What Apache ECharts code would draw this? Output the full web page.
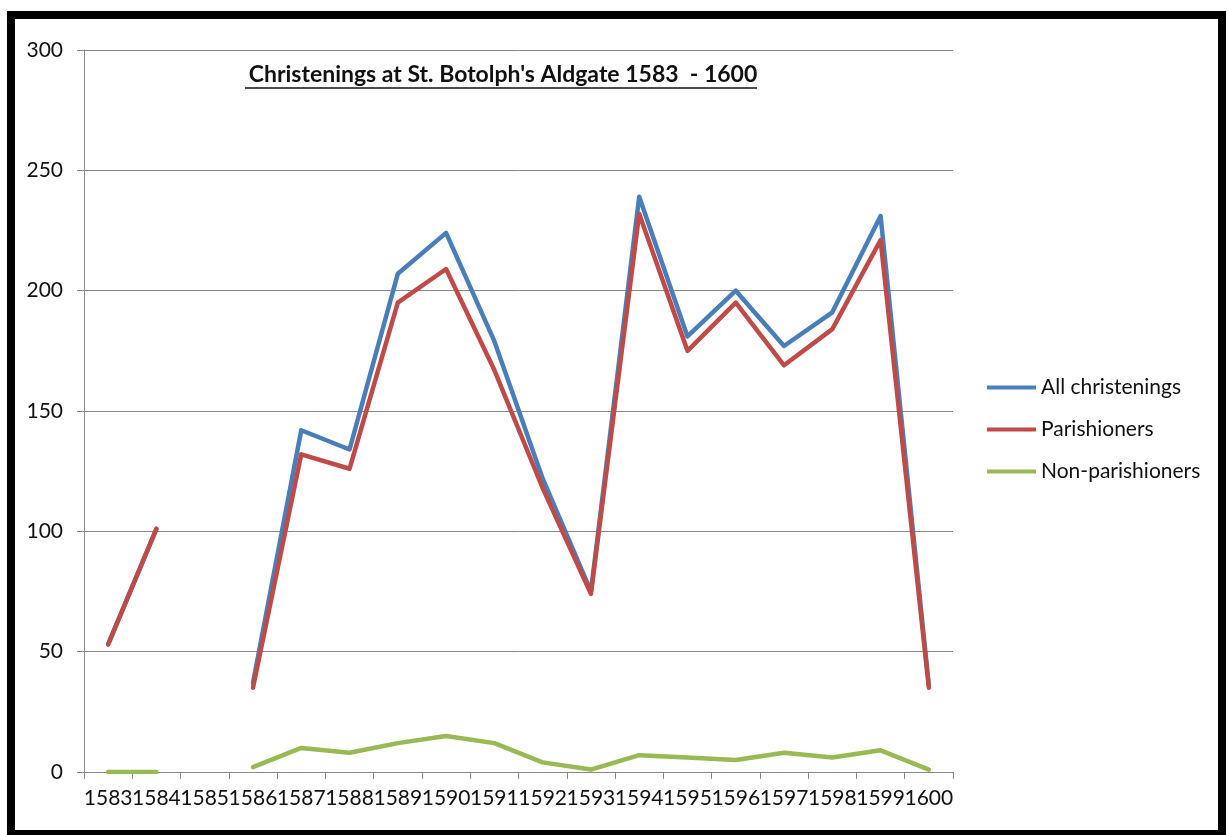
<!DOCTYPE html>
<html>
<head>
<meta charset="utf-8">
<script src="https://cdn.jsdelivr.net/npm/echarts@6/dist/echarts.min.js"></script>
<style>
html,body{margin:0;padding:0;background:#fff;}
#chart{width:1228px;height:835px;}
</style>
</head>
<body>
<div id="chart"></div>
<script>
const years = ['1583','1584','1585','1586','1587','1588','1589','1590','1591','1592','1593','1594','1595','1596','1597','1598','1599','1600'];
const allChristenings = [53, 101, null, 37, 142, 134, 207, 224, 179, 122, 75, 239, 181, 200, 177, 191, 231, 36];
const parishioners    = [53, 101, null, 35, 132, 126, 195, 209, 167, 118, 74, 232, 175, 195, 169, 184, 221, 35];
const nonParishioners = [0, 0, null, 2, 10, 8, 12, 15, 12, 4, 1, 7, 6, 5, 8, 6, 9, 1];
const yTicks = [0, 50, 100, 150, 200, 250, 300];
const titleText = "Christenings at St. Botolph's Aldgate 1583  - 1600";

const chart = echarts.init(document.getElementById('chart'));
const fontFam = 'Lato, "Liberation Sans", sans-serif';
const lineSeries = (name, data, color) => ({
  name, type: 'line', data, symbol: 'none', connectNulls: false,
  lineStyle: {color, width: 4.5, cap: 'round', join: 'round'},
  itemStyle: {color},
  emphasis: {disabled: true}
});
chart.setOption({
  animation: false,
  backgroundColor: '#fff',
  title: {
    text: titleText, left: 498, top: 58, textAlign: 'center',
    textStyle: {fontFamily: fontFam, fontWeight: 'bold', fontSize: 23, color: '#111'}
  },
  grid: {left: 84, top: 50, right: 275, bottom: 63, containLabel: false},
  legend: {
    orient: 'vertical', left: 987, top: 377, itemGap: 21, padding: 0,
    icon: 'rect', itemWidth: 49, itemHeight: 4,
    textStyle: {fontFamily: fontFam, fontSize: 21, color: '#111', lineHeight: 20},
    data: ['All christenings', 'Parishioners', 'Non-parishioners']
  },
  xAxis: {
    type: 'category', data: years, boundaryGap: true,
    axisLine: {lineStyle: {color: '#888', width: 1}},
    axisTick: {show: true, length: 7, alignWithLabel: false, lineStyle: {color: '#888'}},
    axisLabel: {interval: 0, fontFamily: fontFam, fontSize: 21, color: '#111', margin: 16}
  },
  yAxis: {
    type: 'value', min: yTicks[0], max: yTicks[yTicks.length - 1], interval: 50,
    axisLine: {show: true, lineStyle: {color: '#888', width: 1}},
    axisTick: {show: true, length: 7, lineStyle: {color: '#888'}},
    splitLine: {show: true, lineStyle: {color: '#888', width: 1}},
    axisLabel: {fontFamily: fontFam, fontSize: 21, color: '#111', margin: 21}
  },
  graphic: [
    {type: 'line', shape: {x1: 245, y1: 88, x2: 757, y2: 88}, style: {stroke: '#111', lineWidth: 1.5}, silent: true},
    {type: 'rect', shape: {x: 11, y: 15, width: 1211, height: 819}, style: {fill: 'none', stroke: '#000', lineWidth: 8}, silent: true, z: 100}
  ],
  series: [
    lineSeries('All christenings', allChristenings, '#4a7ebb'),
    lineSeries('Parishioners', parishioners, '#be4b48'),
    lineSeries('Non-parishioners', nonParishioners, '#98b954')
  ]
});
</script>
</body>
</html>
